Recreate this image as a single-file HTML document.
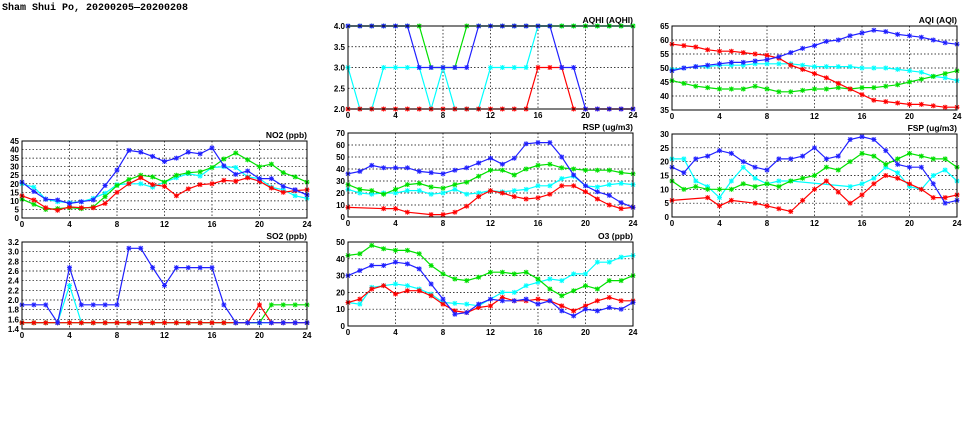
<!DOCTYPE html>
<html><head><meta charset="utf-8"><style>
body{margin:0;background:#fff;}
svg{display:block;font-family:"Liberation Sans",sans-serif;}
.tk{font-size:8px;font-weight:bold;fill:#000;}
.tt{font-size:8.5px;font-weight:bold;fill:#000;}
</style></head><body>
<svg id="c" width="975" height="447" viewBox="0 0 975 447">
<text x="2" y="10" style="font-family:'Liberation Mono',monospace;font-size:10px;font-weight:bold">Sham Shui Po, 20200205—20200208</text>
</svg>
<script>
const hours=[0,1,2,3,4,5,6,7,8,9,10,11,12,13,14,15,16,17,18,19,20,21,22,23,24];
const xTicks=[0,4,8,12,16,20,24];
const seriesColors=['#00ffff','#00e000','#ff0000','#2020ff'];
const N=null;
// NO2
const no2Ticks=[0,5,10,15,20,25,30,35,40,45];
const no2Cyan=[20,18,11,9.5,9,9.5,11.5,14.5,19.5,20,20,18,21,23.5,26,24.5,29.5,30,29.5,24,23,18,16.5,13,11.5];
const no2Green=[11,8,5,5.5,6,5.5,6.5,12.5,19,22.5,25,24,21,25,26.5,27,29.5,34.5,38,34,30,31.5,26.5,24,21];
const no2Red=[13,10.5,6,4.5,6.5,6,6,8.5,15,20,23.5,19.5,18.5,13,17,19.5,20,22,21.5,23.5,21.5,17.5,15,16,16.5];
const no2Blue=[21,15.5,11,10.5,8.5,9.5,10.5,19,28,39.5,38.5,36,33,35,38.5,37.5,41,30.5,25.5,27.5,23,23,18.5,16.5,13.5];
// SO2
const so2Ticks=[1.4,1.6,1.8,2.0,2.2,2.4,2.6,2.8,3.0,3.2];
const so2Cyan=[1.53,1.53,1.53,1.53,2.3,1.53,1.53,1.53,1.53,1.53,1.53,1.53,1.53,1.53,1.53,1.53,1.53,1.53,1.53,1.53,1.53,1.53,1.53,1.53,1.53];
const so2Green=[1.53,1.53,1.53,1.53,1.53,1.53,1.53,1.53,1.53,1.53,1.53,1.53,1.53,1.53,1.53,1.53,1.53,1.53,1.53,1.53,1.53,1.9,1.9,1.9,1.9];
const so2Red=[1.53,1.53,1.53,1.53,1.53,1.53,1.53,1.53,1.53,1.53,1.53,1.53,1.53,1.53,1.53,1.53,1.53,1.53,1.53,1.53,1.9,1.53,1.53,1.53,1.53];
const so2Blue=[1.9,1.9,1.9,1.53,2.67,1.9,1.9,1.9,1.9,3.07,3.07,2.67,2.3,2.67,2.67,2.67,2.67,1.9,1.53,1.53,1.53,1.53,1.53,1.53,1.53];
// AQHI
const aqhiTicks=[2.0,2.5,3.0,3.5,4.0];
const aqhiCyan=[3,2,2,3,3,3,3,2,3,2,2,2,3,3,3,3,4,4,4,4,4,4,4,4,4];
const aqhiGreen=[4,4,4,4,4,4,4,3,3,3,4,4,4,4,4,4,4,4,4,4,4,4,4,4,4];
const aqhiRed=[2,2,2,2,2,2,2,2,2,2,2,2,2,2,2,2,3,3,3,2,2,2,2,2,2];
const aqhiBlue=[4,4,4,4,4,4,3,3,3,3,3,4,4,4,4,4,4,4,3,3,2,2,2,2,2];
// RSP
const rspTicks=[0,10,20,30,40,50,60,70];
const rspCyan=[23,20,19,20,20,22,22,19,20,23,19,20,22,21,22,23,26,26,32,34,26,25,27,28,27];
const rspGreen=[27,23,22,19,23,27,28,25,24,27,29,34,39,39,35,40,43,44,41,40,39,39,39,37,36];
const rspRed=[8,N,N,7,7,4,N,2,2,4,9,17,22,20,17,15,16,19,26,26,21,15,10,7,8];
const rspBlue=[36,38,43,41,41,41,38,37,36,39,41,45,49,44,49,61,62,62,50,35,26,21,18,12,8];
// O3
const o3Ticks=[0,10,20,30,40,50];
const o3Cyan=[14,13,23,24,25,24,22,19,14,13.5,13,12,N,20,20,24,26,28,27,31,31,38,38,41,42];
const o3Green=[42,43,48,46,45,45,43,36,31,28,27,29,32,32,31,32,28,22,18,21,24,22,27,27,30];
const o3Red=[14,16,22,24,19,21,21,18,13,9,8,11,12,17,15,15,16,15,12,9,12,15,17,15,15];
const o3Blue=[30,33,36,36,38,37,34,25,16,7,8,13,16,15,15,16,13,15,9,6,10,9,11,10,14];
// AQI
const aqiTicks=[35,40,45,50,55,60,65];
const aqiCyan=[49.5,50,50.5,50.5,51,51,51,51.5,51.5,51.5,51.5,51,50.5,50.5,50.5,50.5,50,50,50,49.5,49,48.5,47,46.5,45.5];
const aqiGreen=[45.5,44.5,43.5,43,42.5,42.5,42.5,43.5,42.5,41.5,41.5,42,42.5,42.5,43,42.5,43,43,43.5,44,45,46,47,48,49];
const aqiRed=[58.5,58,57.5,56.5,56,56,55.5,55,54.5,53.5,51,49.5,48,46.5,44.5,42.5,40.5,38.5,38,37.5,37,37,36.5,36,36];
const aqiBlue=[49,50,50.5,51,51.5,52,52,52.5,53,54,55.5,57,58,59.5,60,61.5,62.5,63.5,63,62,61.5,61,60,59,58.5];
// FSP
const fspTicks=[0,5,10,15,20,25,30];
const fspCyan=[21,21,13,11,7,13,18,14,12,13,13,N,N,N,N,11,12,14,18,16,11,10,15,17,13];
const fspGreen=[13,10,11,10,10,10,12,11,12,11,13,14,15,18,17,20,23,22,19,21,23,22,21,21,18];
const fspRed=[6,N,N,7,4,6,N,5,4,3,2,6,10,13,9,5,8,12,15,14,12,10,7,7,8];
const fspBlue=[18,16,21,22,24,23,20,18,17,21,21,22,25,21,22,28,29,28,24,19,18,18,12,5,6];

const svg=document.getElementById('c');
const NS='http://www.w3.org/2000/svg';
function mk(tag,attrs,parent){const e=document.createElementNS(NS,tag);for(const k in attrs)e.setAttribute(k,attrs[k]);(parent||svg).appendChild(e);return e;}
function fmt(v,dec){return dec?v.toFixed(1):String(v);}
function panel(id,title,box,yTicks,series,dec){
  const [L,R,T,B]=box;const y0=yTicks[0],y1=yTicks[yTicks.length-1];
  const xs=h=>L+(h-0)/24*(R-L);const ys=v=>B-(v-y0)/(y1-y0)*(B-T);
  const g=mk('g',{});
  
  
  yTicks.forEach(t=>{
    if(t!==y0&&t!==y1){const l=mk('line',{x1:L,x2:R,y1:ys(t),y2:ys(t),stroke:'#000','stroke-width':0.7,'stroke-dasharray':'1.5,2'},g);}
    const tx=mk('text',{x:L-3,y:ys(t)+3,'text-anchor':'end',class:'tk'},g);tx.textContent=fmt(t,dec);
    
  });
  xTicks.forEach(t=>{
    if(t!==0&&t!==24){const l=mk('line',{x1:xs(t),x2:xs(t),y1:T,y2:B,stroke:'#000','stroke-width':0.7,'stroke-dasharray':'1.5,2'},g);}
    const tx=mk('text',{x:xs(t),y:B+9,'text-anchor':'middle',class:'tk'},g);tx.textContent=String(t);
    
  });
  series.forEach((vals,si)=>{
    const col=seriesColors[si];let d='';let started=false;
    vals.forEach((v,i)=>{if(v===null)return;d+=(started?'L':'M')+xs(hours[i]).toFixed(1)+','+ys(v).toFixed(1);started=true;});
    const p=mk('path',{d:d,fill:'none',stroke:col,'stroke-width':1.2},g);
    
    
    vals.forEach((v,i)=>{if(v===null)return;const x=xs(hours[i]),y=ys(v);
      const m=mk('path',{d:`M${x-2.5},${y}h5M${x},${y-2.5}v5M${x-2},${y-2}l4,4M${x-2},${y+2}l4,-4`,stroke:col,'stroke-width':1},g);
      });
  });
  const fr=mk('rect',{x:L,y:T,width:R-L,height:B-T,fill:'none',stroke:'#000','stroke-width':1},g);
  
  const tt=mk('text',{x:R,y:T-3,'text-anchor':'end',class:'tt'},g);tt.textContent=title;
  
}
panel('no2','NO2 (ppb)',[22,307,141,218],no2Ticks,[no2Cyan,no2Green,no2Red,no2Blue],false);
panel('so2','SO2 (ppb)',[22,307,242,329],so2Ticks,[so2Cyan,so2Green,so2Red,so2Blue],true);
panel('aqhi','AQHI (AQHI)',[348,633,26,109],aqhiTicks,[aqhiCyan,aqhiGreen,aqhiRed,aqhiBlue],true);
panel('rsp','RSP (ug/m3)',[348,633,133,217],rspTicks,[rspCyan,rspGreen,rspRed,rspBlue],false);
panel('o3','O3 (ppb)',[348,633,242,326],o3Ticks,[o3Cyan,o3Green,o3Red,o3Blue],false);
panel('aqi','AQI (AQI)',[672,957,26,110],aqiTicks,[aqiCyan,aqiGreen,aqiRed,aqiBlue],false);
panel('fsp','FSP (ug/m3)',[672,957,134,217],fspTicks,[fspCyan,fspGreen,fspRed,fspBlue],false);
</script>
</body></html>
